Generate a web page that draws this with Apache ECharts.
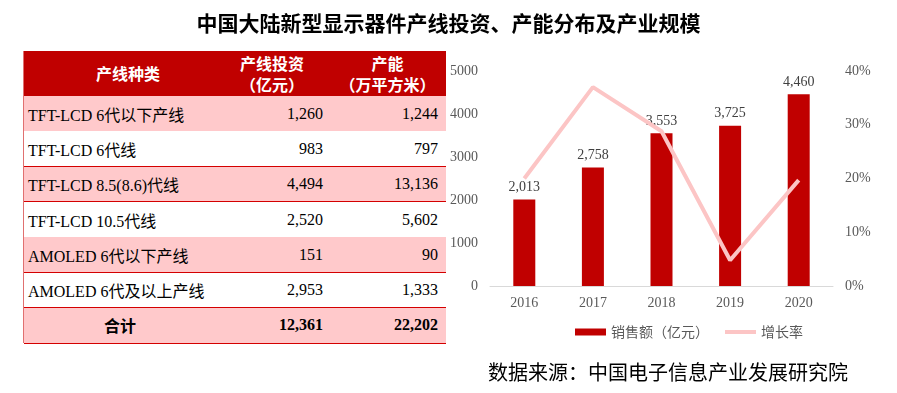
<!DOCTYPE html>
<html><head><meta charset="utf-8">
<script src="https://cdn.jsdelivr.net/npm/echarts@6/dist/echarts.min.js"></script>
<style>
html,body{margin:0;padding:0;background:#fff;width:897px;height:393px;overflow:hidden;}
#title{position:absolute;left:0;width:897px;top:9px;text-align:center;font-family:"Noto Sans CJK SC";font-weight:bold;font-size:21px;color:#000;line-height:26px;}
#chart{position:absolute;left:0;top:0;width:897px;height:393px;}
#tbl{position:absolute;left:24px;top:51px;width:422px;height:292px;}
.row{position:absolute;left:0;width:422px;}
.cell{position:absolute;top:0;height:100%;display:flex;align-items:center;box-sizing:border-box;white-space:nowrap;}
.body{font-family:"Liberation Serif","Noto Sans CJK SC";font-size:16px;color:#000;}
.head{font-family:"Noto Sans CJK SC";font-weight:bold;font-size:16px;color:#fff;line-height:21px;text-align:center;flex-direction:column;justify-content:center;}
.hline{position:absolute;left:0;width:422px;height:1px;background:#D40000;}
#source{position:absolute;left:488px;top:359px;font-family:"Noto Sans CJK SC";font-size:20px;color:#000;line-height:26px;}
</style></head>
<body>
<div id="chart"></div>
<div id="title">中国大陆新型显示器件产线投资、产能分布及产业规模</div>
<div id="tbl"></div>
<div id="source">数据来源：中国电子信息产业发展研究院</div>
<script>
// ---- table data ----
const tableHeaders = [['产线种类'], ['产线投资', '（亿元）'], ['产能', '（万平方米）']];
const lineTypes = ['TFT-LCD 6代以下产线', 'TFT-LCD 6代线', 'TFT-LCD 8.5(8.6)代线', 'TFT-LCD 10.5代线', 'AMOLED 6代以下产线', 'AMOLED 6代及以上产线'];
const investment = [1260, 983, 4494, 2520, 151, 2953];
const capacity = [1244, 797, 13136, 5602, 90, 1333];
const totalLabel = '合计';
const totalInvestment = 12361;
const totalCapacity = 22202;

// ---- chart data ----
const years = ['2016', '2017', '2018', '2019', '2020'];
const sales = [2013, 2758, 3553, 3725, 4460];
const growth = [20.0, 37.0, 28.8, 4.8, 19.7];
const salesName = '销售额（亿元）';
const growthName = '增长率';

const fmt = v => v.toLocaleString('en-US');

// ---- build table ----
(function () {
  const tbl = document.getElementById('tbl');
  const cols = [{ l: 0, w: 200 }, { l: 200, w: 107 }, { l: 307, w: 115 }];
  const headH = 45, rowH = 35.3;
  const lb = document.createElement('div');
  lb.style.cssText = 'position:absolute;left:-1px;top:0;width:1px;height:292px;background:#E07070;';
  tbl.appendChild(lb);
  const hr = document.createElement('div');
  hr.className = 'row';
  hr.style.cssText = 'top:0;height:' + headH + 'px;background:#C00000;';
  const hpad = [['8px', '0'], ['0', '11px'], ['0', '2px']];
  tableHeaders.forEach((lines, i) => {
    const c = document.createElement('div');
    c.className = 'cell head';
    c.style.left = cols[i].l + 'px';
    c.style.width = cols[i].w + 'px';
    c.style.paddingLeft = hpad[i][0];
    c.style.paddingRight = hpad[i][1];
    c.innerHTML = lines.map(s => '<div>' + s + '</div>').join('');
    hr.appendChild(c);
  });
  tbl.appendChild(hr);
  const rows = lineTypes.map((n, i) => [n, fmt(investment[i]), fmt(capacity[i]), false]);
  rows.push([totalLabel, fmt(totalInvestment), fmt(totalCapacity), true]);
  rows.forEach((r, i) => {
    const top = headH + i * rowH;
    const row = document.createElement('div');
    row.className = 'row';
    row.style.top = top + 'px';
    row.style.height = rowH + 'px';
    row.style.background = (i % 2 === 0) ? '#FFC9CB' : '#FFFFFF';
    for (let k = 0; k < 3; k++) {
      const c = document.createElement('div');
      c.className = 'cell body';
      c.style.left = cols[k].l + 'px';
      c.style.width = cols[k].w + 'px';
      if (r[3]) c.style.fontWeight = 'bold';
      if (k === 0) {
        if (r[3]) { c.style.justifyContent = 'center'; c.style.paddingRight = '8px'; c.style.fontFamily = '"Noto Sans CJK SC"'; }
        else { c.style.paddingLeft = '4px'; }
      } else {
        c.style.justifyContent = 'flex-end';
        c.style.paddingRight = '8px';
      }
      c.textContent = r[k];
      row.appendChild(c);
    }
    tbl.appendChild(row);
    const ln = document.createElement('div');
    ln.className = 'hline';
    ln.style.top = (top + rowH - 0.5) + 'px';
    tbl.appendChild(ln);
  });
})();

// ---- chart ----
const chart = echarts.init(document.getElementById('chart'), null, { renderer: 'canvas' });
chart.setOption({
  animation: false,
  grid: { left: 490, right: 64, top: 71, bottom: 107, containLabel: false },
  legend: {
    left: 570, top: 320, itemWidth: 31, itemHeight: 7, itemGap: 14, itemTextGap: 3,
    textStyle: { fontFamily: 'Noto Sans CJK SC', fontSize: 14, color: '#595959' },
    data: [
      { name: salesName, icon: 'rect' },
      { name: growthName, lineStyle: { width: 4 }, itemStyle: { opacity: 0 } }
    ]
  },
  xAxis: {
    type: 'category', data: years,
    axisLine: { lineStyle: { color: '#D9D9D9', width: 1 } },
    axisTick: { show: false },
    axisLabel: { fontFamily: 'Liberation Serif', fontSize: 14, color: '#595959', margin: 10 }
  },
  yAxis: [
    {
      type: 'value', min: 0, max: 5000, interval: 1000,
      splitLine: { show: false }, axisLine: { show: false }, axisTick: { show: false },
      axisLabel: { formatter: v => String(v), fontFamily: 'Liberation Serif', fontSize: 14, color: '#595959', margin: 12 }
    },
    {
      type: 'value', min: 0, max: 40, interval: 10, position: 'right',
      splitLine: { show: false }, axisLine: { show: false }, axisTick: { show: false },
      axisLabel: { formatter: v => v + '%', fontFamily: 'Liberation Serif', fontSize: 14, color: '#595959', margin: 12 }
    }
  ],
  series: [
    {
      name: salesName, type: 'bar', data: sales, barWidth: 22,
      itemStyle: { color: '#C00000' },
      label: {
        show: true, position: 'top', distance: 5,
        formatter: p => fmt(p.value),
        fontFamily: 'Liberation Serif', fontSize: 14, color: '#404040'
      }
    },
    {
      name: growthName, type: 'line', yAxisIndex: 1, data: growth,
      symbol: 'none', showSymbol: false,
      lineStyle: { width: 4, color: '#FCC5C5' },
      itemStyle: { color: '#FCC5C5' },
      z: 3
    }
  ]
});
</script>
</body></html>
